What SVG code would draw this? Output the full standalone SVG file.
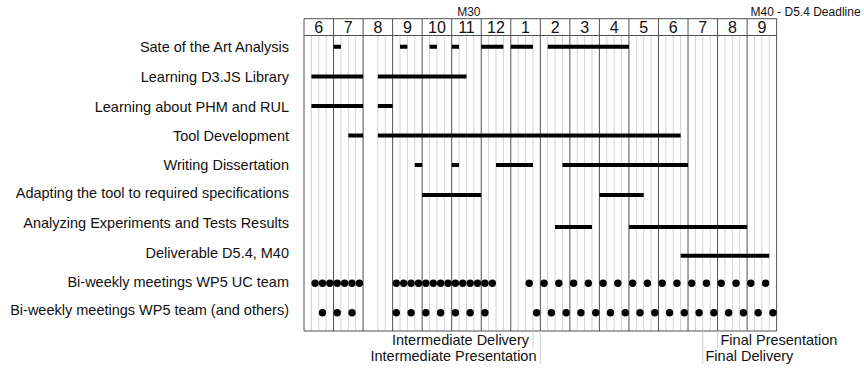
<svg xmlns="http://www.w3.org/2000/svg" width="864" height="372" viewBox="0 0 864 372">
  <style>
    text { font-family: "Liberation Sans", Arial, sans-serif; fill: #111; }
    .lbl { font-size: 14.5px; text-anchor: end; }
    .mon { font-size: 16px; text-anchor: middle; }
    .ms { font-size: 12px; }
    .note { font-size: 14.5px; }
    .wk { stroke: #d2d2d2; stroke-width: 1; fill: none; }
    .mo { stroke: #505050; stroke-width: 1; fill: none; }
    .bar { stroke: #000; stroke-width: 4; }
    .dot { fill: #000; }
    .mark { stroke: #cfcfcf; stroke-width: 1; }
  </style>
  <rect width="864" height="372" fill="#fff"/>

  <!-- weekly grid lines (first week of August left blank) -->
  <path class="wk" d="M311.39 35.5V331M318.77 35.5V331M326.16 35.5V331
    M340.93 35.5V331M348.31 35.5V331M355.70 35.5V331
    M377.85 35.5V331M385.24 35.5V331
    M400.01 35.5V331M407.39 35.5V331M414.78 35.5V331
    M429.55 35.5V331M436.93 35.5V331M444.32 35.5V331
    M459.09 35.5V331M466.47 35.5V331M473.86 35.5V331
    M488.63 35.5V331M496.01 35.5V331M503.40 35.5V331
    M518.17 35.5V331M525.55 35.5V331M532.94 35.5V331
    M547.71 35.5V331M555.09 35.5V331M562.48 35.5V331
    M577.25 35.5V331M584.63 35.5V331M592.02 35.5V331
    M606.79 35.5V331M614.17 35.5V331M621.56 35.5V331
    M636.33 35.5V331M643.71 35.5V331M651.10 35.5V331
    M665.87 35.5V331M673.25 35.5V331M680.64 35.5V331
    M695.41 35.5V331M702.79 35.5V331M710.18 35.5V331
    M724.95 35.5V331M732.33 35.5V331M739.72 35.5V331
    M754.49 35.5V331M761.87 35.5V331M769.26 35.5V331"/>

  <!-- month lines and frame -->
  <path class="mo" d="M304 18.7V331M333.54 18.7V331M363.08 18.7V331M392.62 18.7V331
    M422.16 18.7V331M451.70 18.7V331M481.24 18.7V331M510.78 18.7V331
    M540.32 18.7V331M569.86 18.7V331M599.40 18.7V331M628.94 18.7V331
    M658.48 18.7V331M688.02 18.7V331M717.56 18.7V331M747.10 18.7V331M776.64 18.7V331
    M304 18.7H776.64M304 35.5H776.64M304 331H776.64"/>

  <!-- month numbers -->
  <g id="months">
    <text class="mon" x="318.77" y="32.5">6</text>
    <text class="mon" x="348.31" y="32.5">7</text>
    <text class="mon" x="377.85" y="32.5">8</text>
    <text class="mon" x="407.39" y="32.5">9</text>
    <text class="mon" x="436.93" y="32.5">10</text>
    <text class="mon" x="466.47" y="32.5">11</text>
    <text class="mon" x="496.01" y="32.5">12</text>
    <text class="mon" x="525.55" y="32.5">1</text>
    <text class="mon" x="555.09" y="32.5">2</text>
    <text class="mon" x="584.63" y="32.5">3</text>
    <text class="mon" x="614.17" y="32.5">4</text>
    <text class="mon" x="643.71" y="32.5">5</text>
    <text class="mon" x="673.25" y="32.5">6</text>
    <text class="mon" x="702.79" y="32.5">7</text>
    <text class="mon" x="732.33" y="32.5">8</text>
    <text class="mon" x="761.87" y="32.5">9</text>
  </g>

  <!-- milestones -->
  <g id="milestones">
    <text class="ms" x="480.5" y="15.5" text-anchor="end">M30</text>
    <text class="ms" x="750.5" y="15.5">M40 - D5.4 Deadline</text>
  </g>

  <g id="task-state-of-art">
    <text class="lbl" x="289" y="52">Sate of the Art Analysis</text>
    <path class="bar" d="M333.54 46.7H340.93M400.01 46.7H407.39M429.55 46.7H436.93M451.70 46.7H459.09M481.24 46.7H503.40M510.78 46.7H532.94M547.71 46.7H628.94"/>
  </g>
  <g id="task-d3">
    <text class="lbl" x="289" y="82">Learning D3.JS Library</text>
    <path class="bar" d="M311.39 76.5H363.08M377.85 76.5H466.47"/>
  </g>
  <g id="task-phm">
    <text class="lbl" x="289" y="111.7">Learning about PHM and RUL</text>
    <path class="bar" d="M311.39 106H363.08M377.85 106H392.62"/>
  </g>
  <g id="task-tool">
    <text class="lbl" x="289" y="141">Tool Development</text>
    <path class="bar" d="M348.31 135.5H363.08M377.85 135.5H680.64"/>
  </g>
  <g id="task-dissertation">
    <text class="lbl" x="289" y="170">Writing Dissertation</text>
    <path class="bar" d="M414.78 165H422.16M451.70 165H459.09M496.01 165H532.94M562.48 165H688.02"/>
  </g>
  <g id="task-adapting">
    <text class="lbl" x="289" y="198.3">Adapting the tool to required specifications</text>
    <path class="bar" d="M422.16 195H481.24M599.40 195H643.71"/>
  </g>
  <g id="task-analyzing">
    <text class="lbl" x="289" y="228.3">Analyzing Experiments and Tests Results</text>
    <path class="bar" d="M555.09 227H592.02M628.94 227H747.10"/>
  </g>
  <g id="task-deliverable">
    <text class="lbl" x="289" y="257.7">Deliverable D5.4, M40</text>
    <path class="bar" d="M680.64 255.7H769.26"/>
  </g>

  <g id="meetings-uc">
    <text class="lbl" x="289" y="286.7">Bi-weekly meetings WP5 UC team</text>
    <g class="dot">
      <circle cx="315.08" cy="283.3" r="3.7"/><circle cx="322.46" cy="283.3" r="3.7"/>
      <circle cx="329.85" cy="283.3" r="3.7"/><circle cx="337.23" cy="283.3" r="3.7"/>
      <circle cx="344.62" cy="283.3" r="3.7"/><circle cx="352.00" cy="283.3" r="3.7"/>
      <circle cx="359.39" cy="283.3" r="3.7"/>
      <circle cx="396.31" cy="283.3" r="3.7"/><circle cx="403.70" cy="283.3" r="3.7"/>
      <circle cx="411.08" cy="283.3" r="3.7"/><circle cx="418.47" cy="283.3" r="3.7"/>
      <circle cx="425.85" cy="283.3" r="3.7"/><circle cx="433.24" cy="283.3" r="3.7"/>
      <circle cx="440.62" cy="283.3" r="3.7"/><circle cx="448.01" cy="283.3" r="3.7"/>
      <circle cx="455.39" cy="283.3" r="3.7"/><circle cx="462.78" cy="283.3" r="3.7"/>
      <circle cx="470.16" cy="283.3" r="3.7"/><circle cx="477.55" cy="283.3" r="3.7"/>
      <circle cx="484.93" cy="283.3" r="3.7"/><circle cx="492.32" cy="283.3" r="3.7"/>
      <circle cx="529.24" cy="283.3" r="3.7"/><circle cx="544.01" cy="283.3" r="3.7"/>
      <circle cx="558.78" cy="283.3" r="3.7"/><circle cx="573.55" cy="283.3" r="3.7"/>
      <circle cx="588.32" cy="283.3" r="3.7"/><circle cx="603.09" cy="283.3" r="3.7"/>
      <circle cx="617.86" cy="283.3" r="3.7"/><circle cx="632.63" cy="283.3" r="3.7"/>
      <circle cx="647.40" cy="283.3" r="3.7"/><circle cx="662.17" cy="283.3" r="3.7"/>
      <circle cx="676.94" cy="283.3" r="3.7"/><circle cx="691.71" cy="283.3" r="3.7"/>
      <circle cx="706.48" cy="283.3" r="3.7"/><circle cx="721.25" cy="283.3" r="3.7"/>
      <circle cx="736.02" cy="283.3" r="3.7"/><circle cx="750.79" cy="283.3" r="3.7"/>
      <circle cx="765.56" cy="283.3" r="3.7"/>
    </g>
  </g>

  <g id="meetings-all">
    <text class="lbl" x="289" y="315">Bi-weekly meetings WP5 team (and others)</text>
    <g class="dot">
      <circle cx="322.46" cy="312.7" r="3.7"/><circle cx="337.23" cy="312.7" r="3.7"/>
      <circle cx="352.00" cy="312.7" r="3.7"/>
      <circle cx="396.31" cy="312.7" r="3.7"/><circle cx="411.08" cy="312.7" r="3.7"/>
      <circle cx="425.85" cy="312.7" r="3.7"/><circle cx="440.62" cy="312.7" r="3.7"/>
      <circle cx="455.39" cy="312.7" r="3.7"/><circle cx="470.16" cy="312.7" r="3.7"/>
      <circle cx="484.93" cy="312.7" r="3.7"/>
      <circle cx="536.63" cy="312.7" r="3.7"/><circle cx="551.40" cy="312.7" r="3.7"/>
      <circle cx="566.17" cy="312.7" r="3.7"/><circle cx="580.94" cy="312.7" r="3.7"/>
      <circle cx="595.71" cy="312.7" r="3.7"/><circle cx="610.48" cy="312.7" r="3.7"/>
      <circle cx="625.25" cy="312.7" r="3.7"/><circle cx="640.02" cy="312.7" r="3.7"/>
      <circle cx="654.79" cy="312.7" r="3.7"/><circle cx="669.56" cy="312.7" r="3.7"/>
      <circle cx="684.33" cy="312.7" r="3.7"/><circle cx="699.10" cy="312.7" r="3.7"/>
      <circle cx="713.87" cy="312.7" r="3.7"/><circle cx="728.64" cy="312.7" r="3.7"/>
      <circle cx="743.41" cy="312.7" r="3.7"/><circle cx="758.18" cy="312.7" r="3.7"/>
      <circle cx="772.95" cy="312.7" r="3.7"/>
    </g>
  </g>

  <!-- delivery / presentation markers -->
  <g id="events">
    <path class="mark" d="M532.94 331V348M540.32 331V364M702.79 331V364M717.56 331V348"/>
    <text class="note" x="529" y="345" text-anchor="end">Intermediate Delivery</text>
    <text class="note" x="536.5" y="361" text-anchor="end">Intermediate Presentation</text>
    <text class="note" x="720.5" y="345">Final Presentation</text>
    <text class="note" x="705.5" y="361">Final Delivery</text>
  </g>
</svg>
